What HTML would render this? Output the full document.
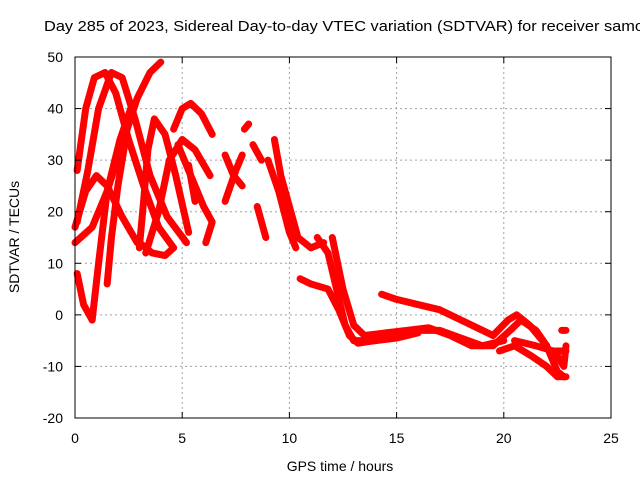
<!DOCTYPE html>
<html><head><meta charset="utf-8"><style>
html,body{margin:0;padding:0;background:#fff;width:640px;height:480px;overflow:hidden}
svg text{font-family:"Liberation Sans",sans-serif;font-size:14px;fill:#000}
</style></head><body>
<svg id="chart" width="640" height="480">
<text x="44" y="31" textLength="600" lengthAdjust="spacingAndGlyphs" style="font-size:15px">Day 285 of 2023, Sidereal Day-to-day VTEC variation (SDTVAR) for receiver samo</text>
<text transform="translate(19,237) rotate(-90)" text-anchor="middle">SDTVAR / TECUs</text>
<text x="340" y="471" text-anchor="middle">GPS time / hours</text>
<g id="grid"></g><g id="marks"></g><g id="axes"></g>
</svg>
<script>
const xTicks=[0,5,10,15,20,25];
const yTicks=[-20,-10,0,10,20,30,40,50];
const track1=[[0.1,28],[0.5,40],[0.9,46],[1.4,47],[1.9,43],[2.5,34],[3.2,25],[3.9,17],[4.6,13]];
const track2=[[0.1,18],[0.6,28],[1.1,40],[1.7,47],[2.2,46],[2.8,38],[3.5,27],[4.3,19],[5.2,14]];
const track3=[[0,14],[0.8,17],[1.5,24],[2.2,33],[2.9,42],[3.5,47],[4.0,49]];
const track4=[[0,17],[0.5,24],[1.0,27],[1.5,25],[2.2,19],[2.9,14]];
const track5=[[0.8,-1],[1.1,10],[1.5,24],[2.1,34],[2.6,40]];
const track6=[[1.5,6],[1.7,15],[2.0,25],[2.4,35]];
const track7=[[0.1,8],[0.4,2],[0.8,-1]];
const track8=[[3.0,13],[3.2,22],[3.4,32],[3.7,38],[4.2,35],[4.7,27],[5.3,16]];
const track9=[[3.3,12],[3.9,20],[4.4,30],[5.0,34],[5.6,32],[6.3,27]];
const track10=[[4.8,33],[5.5,26],[6.0,21],[6.4,18],[6.1,14]];
const track11=[[3.0,14],[3.6,12],[4.2,11.5],[4.6,13]];
const track12=[[4.6,36],[5.0,40],[5.4,41],[5.9,39],[6.4,35]];
const track13=[[5.3,29],[5.6,22]];
const track14=[[7.0,22],[7.5,28],[7.8,31]];
const track15=[[7.0,31],[7.4,27],[7.8,25]];
const track16=[[7.9,36],[8.1,37]];
const track17=[[8.3,33],[8.7,30]];
const track18=[[8.5,21],[8.9,15]];
const track19=[[9.3,34],[9.6,27],[10.0,21],[10.4,15],[11.0,13],[11.6,14]];
const track20=[[9.0,30],[9.5,24],[10.0,16],[10.3,13]];
const track21=[[10.5,7],[11,6],[11.8,5],[12.3,1],[12.8,-4],[13.2,-5.5],[14,-5],[15,-4],[16,-3],[17,-3],[18,-4.5],[19,-6],[20,-5]];
const track22=[[11.3,15],[11.8,12],[12.2,5],[12.6,-2],[13,-5],[14,-5],[15,-4.5],[16,-3.5]];
const track23=[[14.3,4],[15,3],[16,2],[17,1],[18,-1],[19,-3],[19.5,-4]];
const track24=[[12,15],[12.5,5],[13,-2],[13.5,-4],[14.5,-3.5],[15.5,-3],[16.5,-2.5],[17.5,-4],[18.5,-6],[19.5,-6],[20.3,-3],[20.8,-1],[21.5,-3],[22,-6]];
const track25=[[19.5,-4],[20.2,-1],[20.6,0],[21.2,-2],[22,-6],[22.5,-11],[22.8,-12]];
const track26=[[19.8,-7],[20.5,-6],[21.3,-8],[22,-10],[22.5,-12],[22.9,-12]];
const track27=[[20.5,-5],[21.5,-6],[22.3,-7],[22.9,-7]];
const track28=[[22.7,-3],[22.9,-3]];
const track29=[[22.5,-8],[22.8,-10],[22.9,-6]];
const tracks=[track1,track2,track3,track4,track5,track6,track7,track8,track9,track10,track11,track12,track13,track14,track15,track16,track17,track18,track19,track20,track21,track22,track23,track24,track25,track26,track27,track28,track29];

const X0=75,X1=611,Y0=418,Y1=57;
const sx=v=>X0+(v-0)/(25-0)*(X1-X0);
const sy=v=>Y0-(v+20)/(50+20)*(Y0-Y1);
const NS="http://www.w3.org/2000/svg";
const grid=document.getElementById('grid'),marks=document.getElementById('marks'),axes=document.getElementById('axes');
function mk(tag,attrs,parent){const e=document.createElementNS(NS,tag);for(const k in attrs)e.setAttribute(k,attrs[k]);parent.appendChild(e);return e;}
xTicks.forEach(t=>{
  const x=sx(t);
  if(t>0&&t<25){const g=mk('line',{x1:x,x2:x,y1:Y1,y2:Y0,stroke:'#a0a0a0','stroke-dasharray':'2,3'},grid);
  
  }
  mk('line',{x1:x,x2:x,y1:Y0,y2:Y0-6,stroke:'#000'},axes);
  mk('line',{x1:x,x2:x,y1:Y1,y2:Y1+6,stroke:'#000'},axes);
  const tx=mk('text',{x:x,y:Y0+25,'text-anchor':'middle'},axes);tx.textContent=t;
  
  
});
yTicks.forEach(t=>{
  const y=sy(t);
  if(t>-20&&t<50){const g=mk('line',{x1:X0,x2:X1,y1:y,y2:y,stroke:'#a0a0a0','stroke-dasharray':'2,3'},grid);
  
  }
  mk('line',{x1:X0,x2:X0+6,y1:y,y2:y,stroke:'#000'},axes);
  mk('line',{x1:X1,x2:X1-6,y1:y,y2:y,stroke:'#000'},axes);
  const tx=mk('text',{x:X0-12,y:y+5,'text-anchor':'end'},axes);tx.textContent=t;
  
  
});
const frame=mk('rect',{x:X0,y:Y1,width:X1-X0,height:Y0-Y1,fill:'none',stroke:'#000'},axes);


tracks.forEach(tr=>{
  const p=mk('polyline',{points:tr.map(d=>sx(d[0])+','+sy(d[1])).join(' '),fill:'none',stroke:'#ff0000','stroke-width':7,'stroke-linejoin':'round','stroke-linecap':'round'},marks);
  
  
});
</script>
</body></html>
